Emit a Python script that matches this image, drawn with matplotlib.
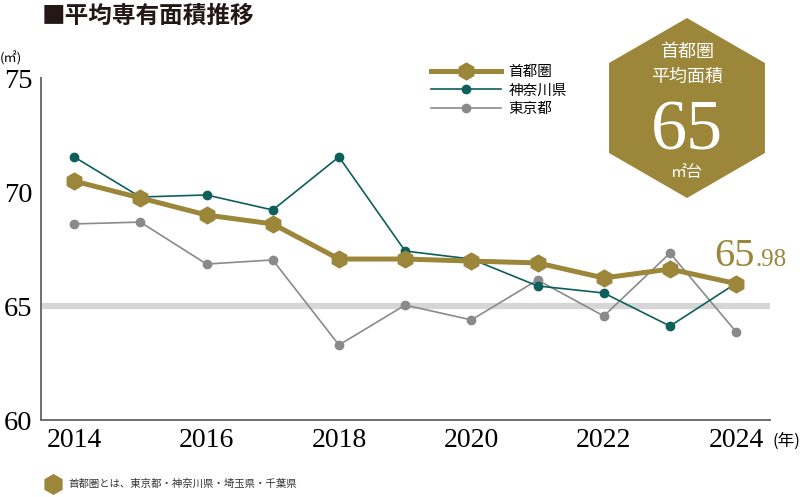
import matplotlib
matplotlib.use("Agg")
import matplotlib.pyplot as plt
from matplotlib.patches import RegularPolygon

plt.rcParams['font.family'] = ['Noto Sans CJK JP', 'DejaVu Sans']

years = [2014, 2015, 2016, 2017, 2018, 2019, 2020, 2021, 2022, 2023, 2024]
shutoken = [70.48, 69.74, 68.99, 68.60, 67.06, 67.06, 66.97, 66.89, 66.23, 66.62, 65.98]
kanagawa = [71.54, 69.78, 69.87, 69.21, 71.54, 67.41, 67.06, 65.88, 65.57, 64.12, 66.00]
tokyo = [68.60, 68.68, 66.84, 67.02, 63.29, 65.04, 64.39, 66.14, 64.56, 67.32, 63.86]
xticks = [2014, 2016, 2018, 2020, 2022, 2024]
yticks = [60, 65, 70, 75]

GOLD = '#9b863a'
TEAL = '#0d5f5b'
GRAY = '#8a8a8a'
W, H = 806, 497

def px(x, y):
    return (x / W, 1 - y / H)

fig = plt.figure(figsize=(W / 100, H / 100), dpi=100)
ax = fig.add_axes([41 / W, 1 - 420 / H, (770 - 41) / W, (420 - 78) / H])

ax.axhline(65, color='#d6d6d6', lw=4.5, zorder=1)
ax.plot(years, tokyo, color=GRAY, lw=1.2, marker='o', ms=6, label='東京都', zorder=2)
ax.plot(years, kanagawa, color=TEAL, lw=1.2, marker='o', ms=6, label='神奈川県', zorder=3)
ax.plot(years, shutoken, color=GOLD, lw=3.6, marker='h', ms=12, label='首都圏', zorder=4)

ax.set_xlim(2013.5, 2024.51)
ax.set_ylim(60, 75)
ax.set_xticks(xticks)
ax.set_yticks(yticks)
ax.tick_params(length=0)
for lab in ax.get_xticklabels():
    lab.set_fontfamily('Liberation Serif')
    lab.set_fontsize(20)
for lab in ax.get_yticklabels():
    lab.set_fontfamily('Liberation Serif')
    lab.set_fontsize(20.5)
ax.tick_params(axis='x', pad=6)
ax.tick_params(axis='y', pad=6)
for s in ['top', 'right']:
    ax.spines[s].set_visible(False)
for s in ['left', 'bottom']:
    ax.spines[s].set_color('#6e6e6e')
    ax.spines[s].set_linewidth(1.4)

h, l = ax.get_legend_handles_labels()
leg = ax.legend(h[::-1], l[::-1], loc='upper left', bbox_to_anchor=px(418, 52),
                bbox_transform=fig.transFigure, frameon=False, fontsize=10.5,
                handlelength=4.8, labelspacing=0.3, handletextpad=0.5)

# title and unit labels
fig.text(*px(42, 16), '■平均専有面積推移', fontsize=17, fontweight='bold',
         color='#231815', va='center', ha='left')
fig.text(*px(0, 58), '(㎡)', fontsize=9.5, va='center', ha='left')
fig.text(*px(772, 441), '(年)', fontsize=12, va='center', ha='left')

# badge (pointy-top hexagon, drawn in inches so it stays regular)
badge = RegularPolygon((6.87, (H - 108) / 100), numVertices=6, radius=0.9,
                       orientation=0, transform=fig.dpi_scale_trans,
                       facecolor=GOLD, edgecolor='none')
fig.patches.append(badge)
fig.text(*px(687, 52), '首都圏', color='white', fontsize=13, ha='center', va='center')
fig.text(*px(687, 77), '平均面積', color='white', fontsize=13, ha='center', va='center')
fig.text(*px(687, 150), '65', color='white', fontsize=52, family='Liberation Serif',
         ha='center', va='baseline')
fig.text(*px(687, 172), '㎡台', color='white', fontsize=11.5, ha='center', va='center')

# last value label
fig.text(*px(714, 266), '65', color=GOLD, fontsize=29, family='Liberation Serif',
         ha='left', va='baseline')
fig.text(*px(755, 266), '.98', color=GOLD, fontsize=18, family='Liberation Serif',
         ha='left', va='baseline')

# footnote
fig.add_artist(plt.Line2D([px(53, 484)[0]], [px(53, 484)[1]], marker='h', ms=14,
                          color=GOLD, transform=fig.transFigure))
fig.text(*px(68, 484), '首都圏とは、東京都・神奈川県・埼玉県・千葉県', fontsize=7.5,
         color='#333333', va='center', ha='left')

fig.savefig('out.png', dpi=100)
